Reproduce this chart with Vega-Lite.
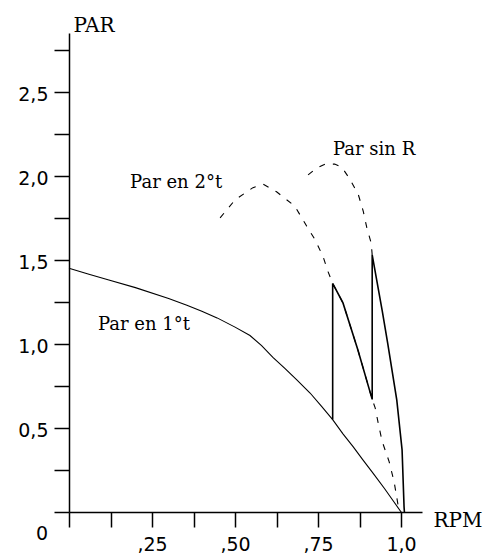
{
  "$schema": "https://vega.github.io/schema/vega-lite/v6.json",
  "width": 353,
  "height": 479,
  "autosize": "none",
  "padding": {"left": 69, "top": 33, "right": 68, "bottom": 48},
  "background": "white",
  "config": {"view": {"stroke": null}},
  "datasets": {
    "curves": [
      {"s": "1t", "i": 0, "x": 0, "y": 1.45},
      {"s": "1t", "i": 1, "x": 0.06, "y": 1.415},
      {"s": "1t", "i": 2, "x": 0.12, "y": 1.38},
      {"s": "1t", "i": 3, "x": 0.2, "y": 1.335},
      {"s": "1t", "i": 4, "x": 0.3, "y": 1.27},
      {"s": "1t", "i": 5, "x": 0.355, "y": 1.23},
      {"s": "1t", "i": 6, "x": 0.4, "y": 1.195},
      {"s": "1t", "i": 7, "x": 0.446, "y": 1.155},
      {"s": "1t", "i": 8, "x": 0.5, "y": 1.1},
      {"s": "1t", "i": 9, "x": 0.545, "y": 1.05},
      {"s": "1t", "i": 10, "x": 0.58, "y": 0.99},
      {"s": "1t", "i": 11, "x": 0.614, "y": 0.92},
      {"s": "1t", "i": 12, "x": 0.65, "y": 0.855},
      {"s": "1t", "i": 13, "x": 0.686, "y": 0.786},
      {"s": "1t", "i": 14, "x": 0.726, "y": 0.708},
      {"s": "1t", "i": 15, "x": 0.76, "y": 0.63},
      {"s": "1t", "i": 16, "x": 0.794, "y": 0.55},
      {"s": "1t", "i": 17, "x": 0.825, "y": 0.465},
      {"s": "1t", "i": 18, "x": 0.856, "y": 0.387},
      {"s": "1t", "i": 19, "x": 0.885, "y": 0.31},
      {"s": "1t", "i": 20, "x": 0.916, "y": 0.23},
      {"s": "1t", "i": 21, "x": 0.95, "y": 0.14},
      {"s": "1t", "i": 22, "x": 0.975, "y": 0.07},
      {"s": "1t", "i": 23, "x": 1.0, "y": 0.0},

      {"s": "2t", "i": 0, "x": 0.455, "y": 1.75},
      {"s": "2t", "i": 1, "x": 0.5, "y": 1.857},
      {"s": "2t", "i": 2, "x": 0.554, "y": 1.93},
      {"s": "2t", "i": 3, "x": 0.585, "y": 1.95},
      {"s": "2t", "i": 4, "x": 0.625, "y": 1.905},
      {"s": "2t", "i": 5, "x": 0.68, "y": 1.82},
      {"s": "2t", "i": 6, "x": 0.716, "y": 1.7},
      {"s": "2t", "i": 7, "x": 0.741, "y": 1.62},
      {"s": "2t", "i": 8, "x": 0.765, "y": 1.52},
      {"s": "2t", "i": 9, "x": 0.78, "y": 1.43},
      {"s": "2t", "i": 10, "x": 0.794, "y": 1.36},
      {"s": "2t", "i": 11, "x": 0.825, "y": 1.244},
      {"s": "2t", "i": 12, "x": 0.87, "y": 0.964},
      {"s": "2t", "i": 13, "x": 0.913, "y": 0.67},
      {"s": "2t", "i": 14, "x": 0.922, "y": 0.62},
      {"s": "2t", "i": 15, "x": 0.931, "y": 0.53},
      {"s": "2t", "i": 16, "x": 0.943, "y": 0.42},
      {"s": "2t", "i": 17, "x": 0.964, "y": 0.3},
      {"s": "2t", "i": 18, "x": 0.979, "y": 0.18},
      {"s": "2t", "i": 19, "x": 0.991, "y": 0.04},
      {"s": "2t", "i": 20, "x": 1.0, "y": 0.0},

      {"s": "sinR", "i": 0, "x": 0.72, "y": 2.006},
      {"s": "sinR", "i": 1, "x": 0.745, "y": 2.045},
      {"s": "sinR", "i": 2, "x": 0.771, "y": 2.07},
      {"s": "sinR", "i": 3, "x": 0.8, "y": 2.07},
      {"s": "sinR", "i": 4, "x": 0.822, "y": 2.05},
      {"s": "sinR", "i": 5, "x": 0.846, "y": 1.98},
      {"s": "sinR", "i": 6, "x": 0.871, "y": 1.89},
      {"s": "sinR", "i": 7, "x": 0.886, "y": 1.79},
      {"s": "sinR", "i": 8, "x": 0.897, "y": 1.69},
      {"s": "sinR", "i": 9, "x": 0.91, "y": 1.6},
      {"s": "sinR", "i": 10, "x": 0.913, "y": 1.53},

      {"s": "saw", "i": 0, "x": 0.794, "y": 0.55},
      {"s": "saw", "i": 1, "x": 0.794, "y": 1.36},
      {"s": "saw", "i": 2, "x": 0.825, "y": 1.244},
      {"s": "saw", "i": 3, "x": 0.87, "y": 0.964},
      {"s": "saw", "i": 4, "x": 0.913, "y": 0.67},
      {"s": "saw", "i": 5, "x": 0.913, "y": 1.53},
      {"s": "saw", "i": 6, "x": 0.943, "y": 1.2},
      {"s": "saw", "i": 7, "x": 0.96, "y": 1.0},
      {"s": "saw", "i": 8, "x": 0.987, "y": 0.667},
      {"s": "saw", "i": 9, "x": 1.003, "y": 0.37},
      {"s": "saw", "i": 10, "x": 1.009, "y": 0.03},
      {"s": "saw", "i": 11, "x": 1.01, "y": 0.0}
    ],
    "labels": [
      {"t": "Par en 2°t", "x": 0.184, "y": 1.929},
      {"t": "Par sin R", "x": 0.795, "y": 2.125},
      {"t": "Par en 1°t", "x": 0.087, "y": 1.083}
    ],
    "origin": [{"t": "0", "x": 0, "y": 0}]
  },
  "layer": [
    {
      "data": {"name": "curves"},
      "transform": [{"filter": "datum.s === '1t'"}],
      "mark": {"type": "line", "color": "black", "strokeWidth": 1.1},
      "encoding": {
        "x": {
          "field": "x", "type": "quantitative",
          "scale": {"domain": [0, 1.063], "nice": false, "zero": false},
          "axis": {
            "values": [0, 0.125, 0.25, 0.375, 0.5, 0.625, 0.75, 0.875, 1.0],
            "labelExpr": "datum.value == 0.25 ? ',25' : datum.value == 0.5 ? ',50' : datum.value == 0.75 ? ',75' : datum.value == 1 ? '1,0' : ''",
            "grid": false,
            "domainColor": "black", "domainWidth": 1.5,
            "tickColor": "black", "tickWidth": 1.5, "tickSize": 15,
            "labelFont": "DejaVu Sans", "labelFontSize": 19, "labelColor": "black",
            "labelPadding": 8, "labelBaseline": "top", "labelFlush": false,
            "title": "RPM",
            "titleFont": "DejaVu Serif", "titleFontSize": 20, "titleFontWeight": "normal", "titleColor": "black",
            "titleX": 364, "titleY": 14, "titleAlign": "left", "titleBaseline": "alphabetic", "titleAnchor": null
          }
        },
        "y": {
          "field": "y", "type": "quantitative",
          "scale": {"domain": [0, 2.85], "nice": false, "zero": false},
          "axis": {
            "values": [0, 0.25, 0.5, 0.75, 1.0, 1.25, 1.5, 1.75, 2.0, 2.25, 2.5, 2.75],
            "labelExpr": "(datum.value > 0 && datum.value % 0.5 == 0) ? replace(format(datum.value, '.1f'), '.', ',') : ''",
            "grid": false,
            "domainColor": "black", "domainWidth": 1.5,
            "tickColor": "black", "tickWidth": 1.5, "tickSize": 15,
            "labelFont": "DejaVu Sans", "labelFontSize": 19, "labelColor": "black",
            "labelPadding": 6, "labelOffset": 3, "labelFlush": false,
            "title": "PAR",
            "titleFont": "DejaVu Serif", "titleFontSize": 20, "titleFontWeight": "normal", "titleColor": "black",
            "titleAngle": 0, "titleX": 4, "titleY": -2, "titleAlign": "left", "titleBaseline": "alphabetic", "titleAnchor": null
          }
        },
        "order": {"field": "i", "type": "quantitative"}
      }
    },
    {
      "data": {"name": "curves"},
      "transform": [{"filter": "datum.s === '2t'"}],
      "mark": {"type": "line", "color": "black", "strokeWidth": 1.1, "strokeDash": [6, 8]},
      "encoding": {
        "x": {"field": "x", "type": "quantitative"},
        "y": {"field": "y", "type": "quantitative"},
        "order": {"field": "i", "type": "quantitative"}
      }
    },
    {
      "data": {"name": "curves"},
      "transform": [{"filter": "datum.s === 'sinR'"}],
      "mark": {"type": "line", "color": "black", "strokeWidth": 1.1, "strokeDash": [6, 8]},
      "encoding": {
        "x": {"field": "x", "type": "quantitative"},
        "y": {"field": "y", "type": "quantitative"},
        "order": {"field": "i", "type": "quantitative"}
      }
    },
    {
      "data": {"name": "curves"},
      "transform": [{"filter": "datum.s === 'saw'"}],
      "mark": {"type": "line", "color": "black", "strokeWidth": 1.6},
      "encoding": {
        "x": {"field": "x", "type": "quantitative"},
        "y": {"field": "y", "type": "quantitative"},
        "order": {"field": "i", "type": "quantitative"}
      }
    },
    {
      "data": {"name": "labels"},
      "mark": {"type": "text", "align": "left", "baseline": "alphabetic", "font": "DejaVu Serif", "fontSize": 18, "color": "black"},
      "encoding": {
        "x": {"field": "x", "type": "quantitative"},
        "y": {"field": "y", "type": "quantitative"},
        "text": {"field": "t"}
      }
    },
    {
      "data": {"name": "origin"},
      "mark": {"type": "text", "align": "center", "baseline": "middle", "font": "DejaVu Sans", "fontSize": 19, "color": "black", "dx": -27, "dy": 22},
      "encoding": {
        "x": {"field": "x", "type": "quantitative"},
        "y": {"field": "y", "type": "quantitative"},
        "text": {"field": "t"}
      }
    }
  ]
}
